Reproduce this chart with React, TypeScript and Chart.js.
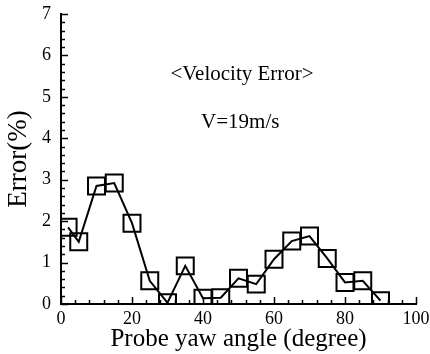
import React, { useEffect, useRef } from "react";
import { Chart, registerables } from "chart.js";

Chart.register(...registerables);

const yawAngles = [2, 5, 10, 15, 20, 25, 30, 35, 40, 45, 50, 55, 60, 65, 70, 75, 80, 85, 90];
const velocityError = [1.85, 1.5, 2.85, 2.92, 1.95, 0.56, 0.03, 0.92, 0.14, 0.15, 0.62, 0.48, 1.08, 1.52, 1.64, 1.1, 0.52, 0.56, 0.08];
const annotationLines = ["<Velocity Error>", "V=19m/s"];

const FONT = "'Liberation Serif', 'Times New Roman', serif";

const inwardTicks = {
  id: "inwardTicks",
  afterDraw(chart: any) {
    const { ctx, scales, chartArea } = chart;
    const xs = scales.x;
    const ys = scales.y;
    ctx.save();
    ctx.strokeStyle = "#000";
    ctx.lineWidth = 1.5;
    ctx.beginPath();
    for (let i = 0; i <= 35; i++) {
      const v = i * 0.2;
      const py = Math.round(ys.getPixelForValue(v)) + 0.5;
      const len = i % 5 === 0 ? 7 : 4;
      ctx.moveTo(chartArea.left, py);
      ctx.lineTo(chartArea.left + len, py);
    }
    for (let i = 0; i <= 25; i++) {
      const v = i * 4;
      const px = Math.round(xs.getPixelForValue(v)) + 0.5;
      const len = i % 5 === 0 ? 7 : 4;
      ctx.moveTo(px, chartArea.bottom);
      ctx.lineTo(px, chartArea.bottom - len);
    }
    ctx.stroke();
    // annotations
    ctx.fillStyle = "#000";
    ctx.font = `21px ${FONT}`;
    ctx.textAlign = "center";
    ctx.textBaseline = "middle";
    ctx.fillText(annotationLines[0], xs.getPixelForValue(51), ys.getPixelForValue(5.53));
    ctx.fillText(annotationLines[1], xs.getPixelForValue(50.5), ys.getPixelForValue(4.37));
    ctx.restore();
  },
};

export default function App() {
  const ref = useRef<HTMLCanvasElement>(null);
  useEffect(() => {
    if (!ref.current) return;
    const chart = new Chart(ref.current, {
      type: "line",
      data: {
        datasets: [
          {
            data: yawAngles.map((x, i) => ({ x, y: velocityError[i] })),
            borderColor: "#000",
            borderWidth: 2,
            tension: 0,
            pointStyle: "rect",
            pointRadius: 12,
            pointHoverRadius: 12,
            pointBorderWidth: 2,
            pointBorderColor: "#000",
            pointBackgroundColor: "rgba(0,0,0,0)",
          },
        ],
      },
      options: {
        animation: false,
        responsive: false,
        events: [],
        layout: { padding: { top: 14, right: 13, left: 0, bottom: 0 } },
        plugins: { legend: { display: false }, tooltip: { enabled: false } },
        scales: {
          x: {
            type: "linear",
            min: 0,
            max: 100,
            afterFit: (s: any) => {
              s.height = 50;
              s.paddingLeft = 0;
              s.paddingRight = 0;
            },
            ticks: { stepSize: 20, color: "#000", font: { family: FONT, size: 18 }, padding: 4, maxRotation: 0 },
            grid: { display: true, drawOnChartArea: false, drawTicks: false },
            border: { display: true, color: "#000", width: 2 },
            title: {
              display: true,
              text: "Probe yaw angle (degree)",
              color: "#000",
              font: { family: FONT, size: 25 },
              padding: { top: 0, bottom: 0 },
            },
          },
          y: {
            min: 0,
            max: 7,
            afterFit: (s: any) => {
              s.width = 61;
              s.paddingTop = 0;
              s.paddingBottom = 0;
            },
            ticks: { stepSize: 1, color: "#000", font: { family: FONT, size: 18 }, padding: 10 },
            grid: { display: true, drawOnChartArea: false, drawTicks: false },
            border: { display: true, color: "#000", width: 2 },
            title: {
              display: true,
              text: "Error(%)",
              color: "#000",
              font: { family: FONT, size: 27 },
              padding: { top: 3, bottom: 0 },
            },
          },
        },
      },
      plugins: [inwardTicks],
    });
    return () => chart.destroy();
  }, []);
  return (
    <div style={{ position: "fixed", left: 0, top: 0, width: 430, height: 354, background: "#fff" }}>
      <canvas ref={ref} width={430} height={354} style={{ display: "block" }} />
    </div>
  );
}
